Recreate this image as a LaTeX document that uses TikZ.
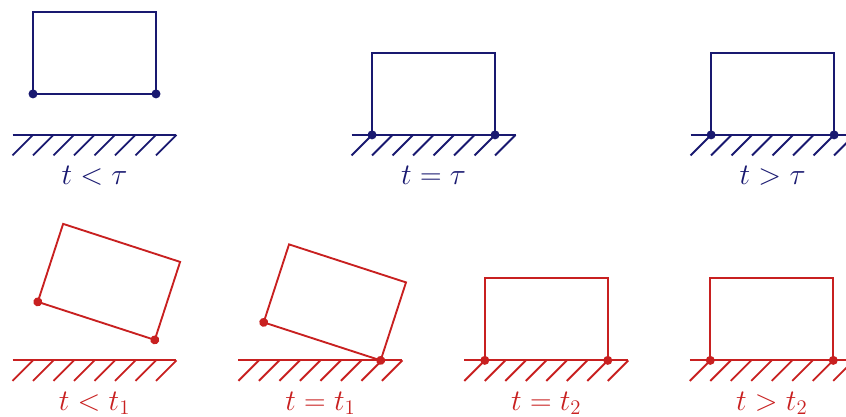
\documentclass[tikz,border=0pt]{standalone}
\usepackage{amsmath,amssymb}
\usepackage{xcolor}
\usetikzlibrary{calc}
\definecolor{restblue}{RGB}{25,25,112}
\definecolor{tiltred}{RGB}{200,32,32}

\tikzset{
  body/.style={line width=1.3pt},
  lbl/.style={anchor=base,font=\fontsize{21}{25}\selectfont},
}
% ground with hatching, left end 0.5 before the block
\newcommand{\hatchground}{%
  \draw[body] (-0.5,0)--(3.5,0);
  \foreach \k in {0,...,7} \draw[body] (\k*0.5,0)--++(-0.5,-0.5);
}

\begin{document}
\begin{tikzpicture}
\useasboundingbox (-0.805,-6.88) rectangle (19.83,3.29);
% upper row
\begin{scope}[restblue]
\hatchground
\draw[body] (0,1) rectangle (3,3);
\fill (0,1) circle[radius=0.11]; \fill (3,1) circle[radius=0.11];
\node[lbl] (lblA) at (1.5,-1.22) {$t<\tau$};
\end{scope}
\begin{scope}[restblue,shift={(8.27,0)}]
\hatchground
\draw[body] (0,0) rectangle (3,2);
\fill (0,0) circle[radius=0.11]; \fill (3,0) circle[radius=0.11];
\node[lbl] (lblB) at (1.5,-1.22) {$t=\tau$};
\end{scope}
\begin{scope}[restblue,shift={(16.54,0)}]
\hatchground
\draw[body] (0,0) rectangle (3,2);
\fill (0,0) circle[radius=0.11]; \fill (3,0) circle[radius=0.11];
\node[lbl] (lblC) at (1.5,-1.22) {$t>\tau$};
\end{scope}
% lower row
\begin{scope}[tiltred,shift={(0,-5.5)}]
\hatchground
\begin{scope}[rotate around={-18:(2.97,0.5)}]
\draw[body] (-0.03,0.5)--(2.97,0.5)--(2.97,2.5)--(-0.03,2.5)--cycle;
\fill (-0.03,0.5) circle[radius=0.11]; \fill (2.97,0.5) circle[radius=0.11];
\end{scope}
\node[lbl] (lblD) at (1.5,-1.22) {$t<t_1$};
\end{scope}
\begin{scope}[tiltred,shift={(5.51,-5.5)}]
\hatchground
\begin{scope}[rotate around={-18:(2.97,0)}]
\draw[body] (-0.03,0)--(2.97,0)--(2.97,2)--(-0.03,2)--cycle;
\fill (-0.03,0) circle[radius=0.11]; \fill (2.97,0) circle[radius=0.11];
\end{scope}
\node[lbl] (lblE) at (1.5,-1.22) {$t=t_1$};
\end{scope}
\begin{scope}[tiltred,shift={(11.02,-5.5)}]
\hatchground
\draw[body] (0,0) rectangle (3,2);
\fill (0,0) circle[radius=0.11]; \fill (3,0) circle[radius=0.11];
\node[lbl] (lblF) at (1.5,-1.22) {$t=t_2$};
\end{scope}
\begin{scope}[tiltred,shift={(16.52,-5.5)}]
\hatchground
\draw[body] (0,0) rectangle (3,2);
\fill (0,0) circle[radius=0.11]; \fill (3,0) circle[radius=0.11];
\node[lbl] (lblG) at (1.5,-1.22) {$t>t_2$};
\end{scope}
\end{tikzpicture}
\end{document}
